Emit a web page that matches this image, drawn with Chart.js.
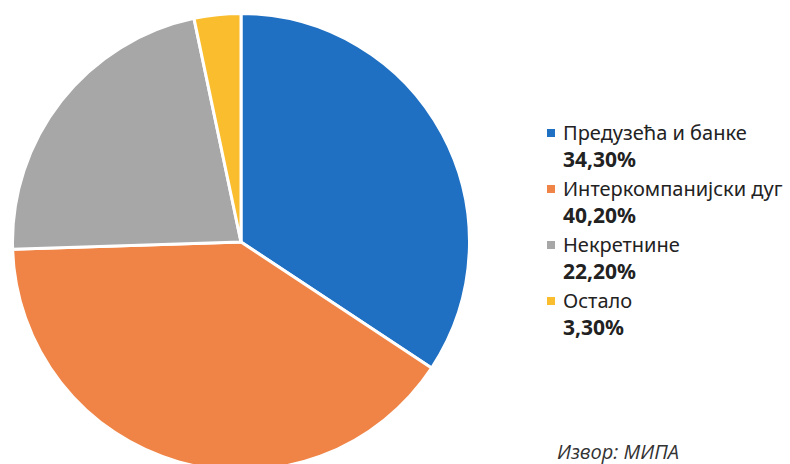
<!DOCTYPE html>
<html>
<head>
<meta charset="utf-8">
<script src="https://cdn.jsdelivr.net/npm/chart.js@4"></script>
<style>
    html, body { margin: 0; padding: 0; background: #fff; width: 790px; height: 464px; overflow: hidden; }
    #pieWrap { position: absolute; left: 11px; top: 12px; width: 460px; height: 460px; }
    #legend { position: absolute; left: 547px; top: 119px; font-family: "Noto Sans", sans-serif; color: #222; }
    .item { position: relative; height: 56px; }
    .item .box { position: absolute; left: 0; top: 10px; width: 8px; height: 8px; }
    .item .name { position: absolute; left: 16px; top: 0; font-size: 20px; line-height: 27px; white-space: nowrap; }
    .item .pct { position: absolute; left: 16px; top: 27px; font-size: 21px; line-height: 26px; font-weight: bold; }
    #source { position: absolute; left: 557px; top: 438px; font-family: "Open Sans", sans-serif; font-style: italic; font-size: 20px; color: #333; }
</style>
</head>
<body>
<div id="pieWrap"><canvas id="pieChart" width="460" height="460"></canvas></div>
<div id="legend"></div>
<div id="source">Извор: МИПА</div>
<script>
// ===== Data =====
const categories = ['Предузећа и банке', 'Интеркомпанијски дуг', 'Некретнине', 'Остало'];
const shares = [34.3, 40.2, 22.2, 3.3];
const shareLabels = ['34,30%', '40,20%', '22,20%', '3,30%'];
const sliceColors = ['#1f6fc2', '#ef8446', '#a7a7a7', '#f9bd2e'];

// Legend (two lines per item, bold percentage)
const legendEl = document.getElementById('legend');
categories.forEach((name, i) => {
    const row = document.createElement('div');
    row.className = 'item';
    row.innerHTML = `<span class="box" style="background:${sliceColors[i]}"></span>` +
        `<span class="name">${name}</span><span class="pct">${shareLabels[i]}</span>`;
    legendEl.appendChild(row);
});

// Pie
new Chart(document.getElementById('pieChart'), {
    type: 'pie',
    data: {
        labels: categories,
        datasets: [{
            data: shares,
            backgroundColor: sliceColors,
            borderColor: '#ffffff',
            borderWidth: 3
        }]
    },
    options: {
        responsive: false,
        animation: false,
        layout: { padding: 0 },
        plugins: {
            legend: { display: false },
            tooltip: { enabled: false }
        }
    }
});
</script>
</body>
</html>
